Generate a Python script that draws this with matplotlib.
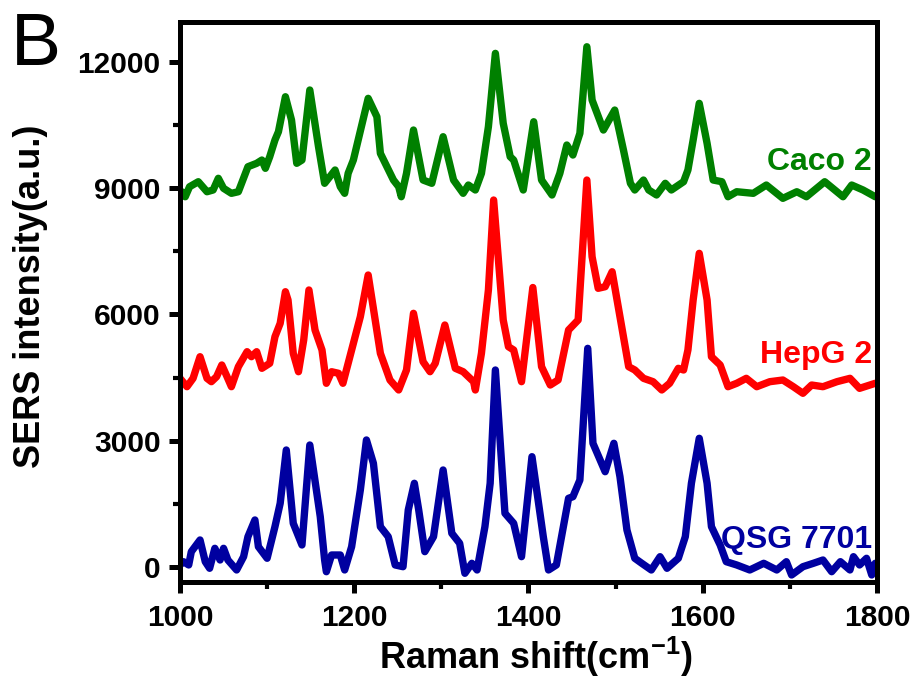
import numpy as np
import matplotlib
matplotlib.use('Agg')
import matplotlib.pyplot as plt
from matplotlib.ticker import MultipleLocator

plt.rcParams['font.family'] = ['Liberation Sans', 'DejaVu Sans']
plt.rcParams['mathtext.fontset'] = 'custom'
plt.rcParams['mathtext.rm'] = 'Liberation Sans:bold'
plt.rcParams['mathtext.bf'] = 'Liberation Sans:bold'
plt.rcParams['mathtext.default'] = 'bf'

# Caco 2 (green)
caco_x = [1002, 1006, 1011, 1021, 1031, 1038, 1044, 1050, 1059, 1067, 1078, 1088, 1094, 1098, 1103,
          1109, 1113, 1121, 1128, 1134, 1140, 1149, 1159, 1166, 1172, 1178, 1184, 1189, 1193, 1199,
          1216, 1226, 1230, 1245, 1251, 1254, 1260, 1268, 1279, 1289, 1302, 1314, 1325, 1331, 1339,
          1346, 1354, 1362, 1371, 1379, 1383, 1394, 1406, 1415, 1427, 1436, 1444, 1451, 1459, 1467,
          1473, 1486, 1499, 1509, 1517, 1522, 1532, 1538, 1547, 1557, 1564, 1578, 1583, 1589, 1596,
          1605, 1612, 1622, 1629, 1639, 1658, 1673, 1692, 1708, 1719, 1740, 1761, 1771, 1784, 1798]
caco_y = [8917, 8798, 9036, 9155, 8917, 8958, 9236, 8998, 8879, 8917, 9511, 9592, 9670, 9473, 9749,
          10146, 10343, 11174, 10621, 9592, 9670, 11334, 9986, 9117, 9274, 9433, 9036, 8879, 9354, 9670,
          11136, 10699, 9829, 9195, 9036, 8798, 9354, 10383, 9195, 9117, 10224, 9195, 8879, 9076, 8958,
          9354, 10462, 12205, 10542, 9749, 9670, 8958, 10580, 9195, 8839, 9354, 10027, 9789, 10305, 12362,
          11096, 10383, 10858, 9908, 9117, 8958, 9195, 8958, 8839, 9117, 8958, 9155, 9433, 10146, 11017,
          10067, 9195, 9155, 8798, 8917, 8879, 9076, 8760, 8917, 8798, 9155, 8798, 9076, 8958, 8798]

# HepG 2 (red)
hepg_x = [1000, 1008, 1015, 1023, 1031, 1036, 1042, 1048, 1054, 1059, 1067, 1077, 1082, 1088, 1094,
          1103, 1109, 1115, 1121, 1124, 1130, 1136, 1142, 1148, 1155, 1163, 1168, 1174, 1182, 1187,
          1195, 1207, 1216, 1230, 1241, 1251, 1260, 1268, 1279, 1287, 1293, 1304, 1316, 1325, 1337,
          1339, 1346, 1354, 1360, 1371, 1377, 1383, 1392, 1405, 1415, 1425, 1434, 1446, 1457, 1467,
          1473, 1480, 1488, 1496, 1505, 1515, 1522, 1532, 1543, 1553, 1562, 1572, 1578, 1583, 1589,
          1596, 1605, 1610, 1620, 1629, 1639, 1650, 1662, 1677, 1692, 1704, 1715, 1725, 1738, 1754,
          1769, 1780, 1798]
hepg_y = [4483, 4284, 4483, 4997, 4483, 4403, 4522, 4800, 4522, 4284, 4759, 5116, 4997, 5116, 4721,
          4840, 5472, 5790, 6541, 6344, 5077, 4640, 5394, 6582, 5631, 5156, 4365, 4640, 4602, 4365,
          4997, 5947, 6938, 5077, 4443, 4206, 4681, 6028, 4878, 4640, 4840, 5750, 4721, 4640, 4403,
          4206, 5077, 6582, 8720, 5869, 5234, 5156, 4403, 6641, 4759, 4324, 4443, 5631, 5869, 9195,
          7373, 6622, 6660, 7016, 5947, 4759, 4681, 4483, 4403, 4206, 4365, 4721, 4681, 5156, 6344,
          7453, 6344, 4997, 4800, 4284, 4365, 4483, 4284, 4403, 4443, 4284, 4127, 4324, 4284, 4403,
          4483, 4245, 4365]

# QSG 7701 (blue)
qsg_x = [1000, 1004, 1010, 1013, 1023, 1029, 1034, 1040, 1046, 1050, 1055, 1065, 1073, 1078, 1086,
         1090, 1100, 1109, 1115, 1122, 1130, 1140, 1149, 1161, 1166, 1168, 1174, 1184, 1189, 1197,
         1207, 1214, 1222, 1230, 1239, 1247, 1256, 1262, 1269, 1274, 1281, 1291, 1302, 1312, 1321,
         1327, 1335, 1341, 1350, 1356, 1362, 1373, 1383, 1392, 1404, 1417, 1423, 1432, 1446, 1451,
         1459, 1468, 1474, 1488, 1498, 1505, 1513, 1522, 1530, 1541, 1551, 1559, 1572, 1580, 1587,
         1596, 1605, 1610, 1620, 1627, 1639, 1654, 1670, 1685, 1696, 1702, 1715, 1727, 1738, 1748,
         1758, 1769, 1773, 1780, 1788, 1794, 1798]
qsg_y = [48, 126, 48, 364, 642, 126, -31, 444, 166, 444, 166, -71, 245, 720, 1117,
         482, 207, 958, 1513, 2780, 1038, 523, 2899, 1195, 166, -112, 285, 285, -71, 482,
         1830, 3018, 2464, 958, 720, 48, 7, 1354, 1989, 1354, 364, 720, 2305, 801, 563,
         -150, 88, -71, 958, 1989, 4681, 1276, 1038, 245, 2621, 720, -71, 48, 1632, 1670,
         2067, 5196, 2939, 2264, 2939, 2146, 879, 207, 88, -71, 245, -31, 207, 720, 1989,
         3058, 1989, 958, 523, 126, 48, -71, 88, -71, 126, -190, 7, 88, 166, -112,
         126, -71, 245, 48, 207, -190, 88]

names = ['Caco 2', 'HepG 2', 'QSG 7701']
colors = ['#008000', '#ff0000', '#0000a0']
label_y = [9433, 4847, 451]

fig = plt.figure(figsize=(9.16, 6.79), dpi=100)
ax = fig.add_axes([0.1965, 0.1429, 0.7609, 0.8247])

series = [(caco_x, caco_y), (hepg_x, hepg_y), (qsg_x, qsg_y)]
for (xs, ys), c in zip(series, colors):
    ax.plot(xs, ys, color=c, lw=5.3, solid_joinstyle='round', solid_capstyle='round')

for name, c, ly in zip(names, colors, label_y):
    ax.text(1794, ly, name, color=c, fontsize=23, fontweight='bold', ha='right', va='baseline')

ax.set_xlim(1000, 1800)
ax.set_ylim(-356, 12950)
ax.xaxis.set_major_locator(MultipleLocator(200))
ax.xaxis.set_minor_locator(MultipleLocator(100))
ax.yaxis.set_major_locator(MultipleLocator(3000))
ax.yaxis.set_minor_locator(MultipleLocator(1500))

for s in ax.spines.values():
    s.set_linewidth(3.6)
ax.tick_params(which='major', direction='out', length=8, width=3.6, labelsize=21.5, pad=6)
ax.tick_params(which='minor', direction='out', length=5, width=3.0)
ax.tick_params(axis='x', which='major', pad=8)
for lab in ax.get_xticklabels() + ax.get_yticklabels():
    lab.set_fontweight('bold')

ax.set_xlabel('Raman shift(cm$^{-1}$)', fontsize=26, fontweight='bold')
ax.set_ylabel('SERS intensity(a.u.)', fontsize=26, fontweight='bold')
ax.xaxis.set_label_coords(0.51, -0.095)
ax.yaxis.set_label_coords(-0.19, 0.51)

fig.text(0.012, 0.904, 'B', fontsize=54, ha='left', va='baseline')

fig.savefig('out.png', dpi=100)
